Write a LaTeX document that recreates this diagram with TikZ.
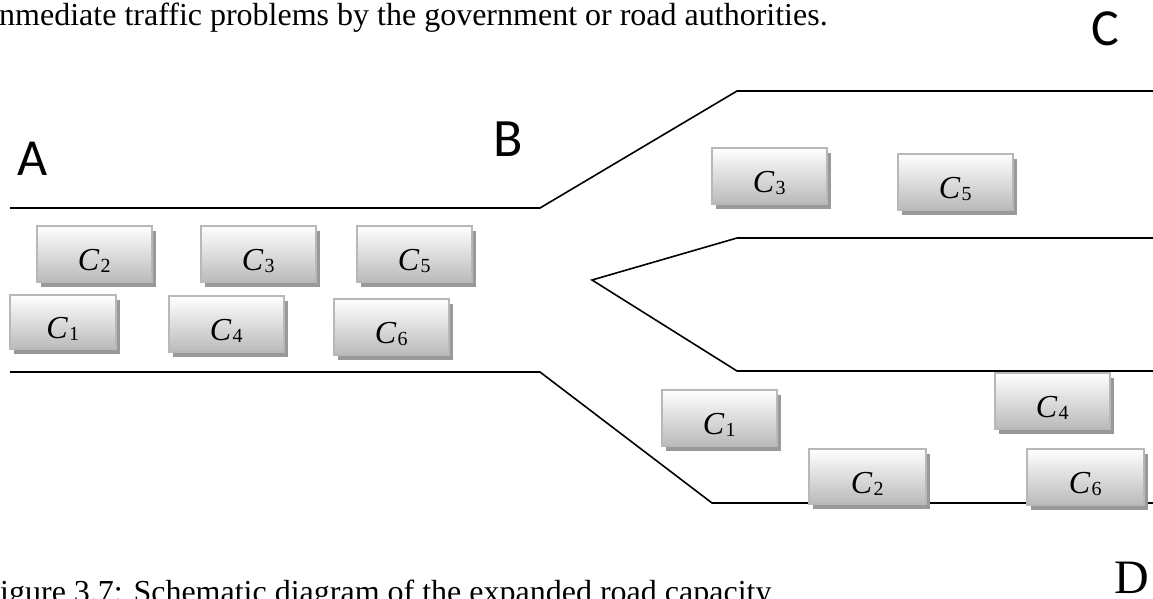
\documentclass[tikz,border=0pt]{standalone}
\usepackage{fontspec}
\newfontfamily\roadsans{Carlito}
\newfontfamily\roadserif{Liberation Serif}
\usetikzlibrary{shadows}
% vehicle name: italic C with a small upright index, set low in the box
\newcommand\carlbl[1]{\raisebox{-17pt}[0pt][0pt]{\textit{C}\kern1pt\raisebox{-2pt}{\fontsize{20}{23}\selectfont #1}}}
\tikzset{
  road/.style={line width=1.6pt, line join=miter},
  car/.style={rectangle, anchor=north west, minimum width=115pt, minimum height=56pt,
    inner sep=0pt, draw=black!28, line width=1.6pt, top color=white, bottom color=black!27,
    drop shadow={shadow xshift=4pt, shadow yshift=-5pt, fill=black!40, opacity=1},
    font=\roadserif\fontsize{32}{36}\selectfont},
  place/.style={anchor=base west, inner sep=0pt, font=\roadsans\fontsize{52}{60}\selectfont},
  prose/.style={anchor=base west, inner sep=0pt, font=\roadserif\fontsize{32}{38}\selectfont},
}
\begin{document}
\begin{tikzpicture}[x=1pt,y=-1pt]
\useasboundingbox (0,0) rectangle (1153,598);
\clip (0,0) rectangle (1153,598);

% surrounding text
\node[prose] (para) at (-1,25) {nmediate traffic problems by the government or road authorities.};
\node[prose] (caption) at (0,602) {igure 3.7: Schematic diagram of the expanded road capacity};

% road edges: single road splitting into two
\draw[road] (10,208) -- (540,208) -- (737,91) -- (1153,91);
\draw[road] (10,372) -- (540,372) -- (712,503) -- (1153,503);
\draw[road] (1153,238) -- (737,238) -- (592,280) -- (737,371) -- (1153,371);

% place labels
\node[place] (A) at (17,175) {A};
\node[place, font=\roadsans\fontsize{54}{62}\selectfont] (B) at (493,156) {B};
\node[place] (C) at (1091,45) {C};
\node[place, font=\roadserif\fontsize{48}{56}\selectfont] (D) at (1114,593) {D};

% vehicles before the split
\node[car] (l2) at (36,225) {\carlbl{2}};
\node[car] (l3) at (200,225) {\carlbl{3}};
\node[car] (l5) at (356,225) {\carlbl{5}};
\node[car, minimum width=106pt, minimum height=54pt] (l1) at (9,294) {\carlbl{1}};
\node[car] (l4) at (168,295) {\carlbl{4}};
\node[car] (l6) at (333,298) {\carlbl{6}};

% vehicles after the split
\node[car] (r3) at (711,147) {\carlbl{3}};
\node[car] (r5) at (897,153) {\carlbl{5}};
\node[car] (r1) at (661,389) {\carlbl{1}};
\node[car] (r4) at (994,372) {\carlbl{4}};
\node[car, minimum width=117pt, minimum height=55pt] (r2) at (808,448) {\carlbl{2}};
\node[car, minimum width=117pt] (r6) at (1026,448) {\carlbl{6}};
\end{tikzpicture}
\end{document}
